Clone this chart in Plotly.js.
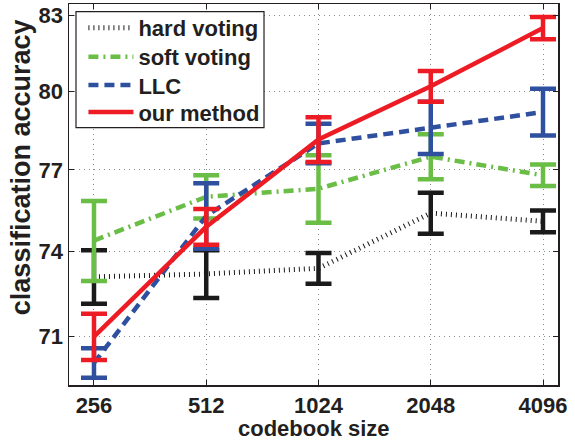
<!DOCTYPE html>
<html>
<head>
<meta charset="utf-8">
<script src="https://cdn.plot.ly/plotly-3.0.1.min.js"></script>
<style>html,body{margin:0;padding:0;background:#fff;}#chart{width:575px;height:443px;}</style>
</head>
<body>
<div id="chart"></div>
<script>
const codebookSizes = [256, 512, 1024, 2048, 4096];
const hardVoting = [73.1, 73.2, 73.4, 75.4, 75.1];
const hardVotingErr = [0.95, 0.85, 0.55, 0.75, 0.4];
const softVoting = [74.4, 76.0, 76.3, 77.5, 76.8];
const softVotingErr = [1.45, 0.8, 1.25, 0.85, 0.4];
const llc = [70.1, 75.3, 78.0, 78.6, 79.2];
const llcErr = [0.5, 1.2, 0.75, 1.0, 0.9];
const ourMethod = [71.0, 74.9, 78.15, 80.2, 82.5];
const ourMethodErr = [0.8, 0.65, 0.85, 0.6, 0.45];
const yTicks = [71, 74, 77, 80, 83];
const xTickLabels = ['256', '512', '1024', '2048', '4096'];
const seriesNames = ['hard voting', 'soft voting', 'LLC', 'our method'];

const FONT = 'Liberation Sans, Arial, Helvetica, sans-serif';
const legendIds = ['legend', 'legend2', 'legend3', 'legend4'];
const legendRowY = [0.937, 0.861, 0.787, 0.716];

function trace(i, y, err, color, dash, width) {
  return {
    type: 'scatter', mode: 'lines', name: seriesNames[i], legend: legendIds[i],
    x: codebookSizes, y: y,
    line: {color: color, width: width, dash: dash},
    error_y: {type: 'data', array: err, visible: true, color: color, thickness: 4.5, width: 13}
  };
}

const data = [
  trace(0, hardVoting, hardVotingErr, '#1a1a1a', '1px,4px', 5),
  trace(1, softVoting, softVotingErr, '#6abd45', '10px,5px,2px,5px', 4.5),
  trace(2, llc, llcErr, '#2f4f9f', '10px,6px', 4.5),
  trace(3, ourMethod, ourMethodErr, '#ed1c24', 'solid', 4.5)
];

function legendAt(yy) {
  return {
    x: 0.0295, y: yy, xanchor: 'left', yanchor: 'middle',
    bgcolor: 'rgba(0,0,0,0)', borderwidth: 0,
    font: {family: FONT, size: 22, color: '#231f20', weight: 'bold'},
    itemwidth: 45
  };
}

const layout = {
  width: 575, height: 443,
  margin: {l: 69, r: 17, t: 4, b: 58},
  paper_bgcolor: '#fff', plot_bgcolor: '#fff',
  font: {family: FONT, size: 22, color: '#231f20', weight: 'bold'},
  showlegend: true,
  legend: legendAt(legendRowY[0]),
  legend2: legendAt(legendRowY[1]),
  legend3: legendAt(legendRowY[2]),
  legend4: legendAt(legendRowY[3]),
  shapes: [{
    type: 'rect', xref: 'paper', yref: 'paper',
    x0: 0.0143, x1: 0.3988, y0: 0.6753, y1: 0.9798,
    fillcolor: '#fff', line: {color: '#231f20', width: 1.2}, layer: 'above'
  }],
  xaxis: {
    type: 'log',
    range: [Math.log10(256) - 0.2226 * Math.log10(2), Math.log10(4096) + 0.1336 * Math.log10(2)],
    tickvals: codebookSizes, ticktext: xTickLabels,
    tickfont: {family: FONT, size: 22, color: '#231f20', weight: 'bold'},
    ticks: 'inside', ticklen: 5, tickwidth: 1, tickcolor: '#231f20',
    showline: true, linecolor: '#231f20', linewidth: 1.5, mirror: 'ticks',
    showgrid: true, gridcolor: '#8a8a8a', gridwidth: 1, griddash: '1px,4px',
    zeroline: false
  },
  yaxis: {
    type: 'log',
    range: [1.84106, 1.92155],
    tickvals: yTicks, ticktext: yTicks.map(String),
    tickfont: {family: FONT, size: 22, color: '#231f20', weight: 'bold'},
    ticks: 'inside', ticklen: 5, tickwidth: 1, tickcolor: '#231f20',
    showline: true, linecolor: '#231f20', linewidth: 1.5, mirror: 'ticks',
    showgrid: true, gridcolor: '#8a8a8a', gridwidth: 1, griddash: '1px,4px',
    zeroline: false
  },
  annotations: [{
    text: 'classification accuracy', textangle: -90,
    xref: 'paper', yref: 'paper', x: -0.0967, y: 0.571,
    xanchor: 'center', yanchor: 'middle', showarrow: false,
    font: {family: FONT, size: 27, color: '#231f20', weight: 'bold'}
  }, {
    text: 'codebook size',
    xref: 'paper', yref: 'paper', x: 0.5, y: -0.113,
    xanchor: 'center', yanchor: 'middle', showarrow: false,
    font: {family: FONT, size: 22, color: '#231f20', weight: 'bold'}
  }]
};

Plotly.newPlot('chart', data, layout, {displayModeBar: false, staticPlot: true});
</script>
</body>
</html>
